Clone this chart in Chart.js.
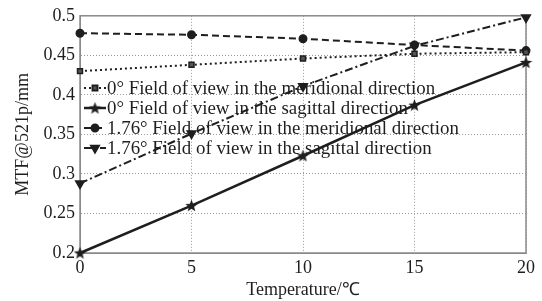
<!DOCTYPE html>
<html>
<head>
<meta charset="utf-8">
<script src="https://cdn.jsdelivr.net/npm/chart.js@4"></script>
<style>
  html, body { margin: 0; padding: 0; background: #fff; }
  #wrap { width: 542px; height: 301px; }
</style>
</head>
<body>
<div id="wrap"><canvas id="mtf"></canvas></div>
<script>
// values
const temps = [0, 5, 10, 15, 20];
const mer0 = [0.430, 0.438, 0.446, 0.452, 0.454];
const sag0 = [0.200, 0.260, 0.323, 0.387, 0.441];
const mer176 = [0.478, 0.476, 0.471, 0.463, 0.456];
const sag176 = [0.288, 0.351, 0.411, 0.462, 0.498];
const yTicks = [0.2, 0.25, 0.3, 0.35, 0.4, 0.45, 0.5];
const xTicks = [0, 5, 10, 15, 20];
const seriesNames = [
  "0° Field of view in the meridional direction",
  "0° Field of view in the sagittal direction",
  "1.76° Field of view in the meridional direction",
  "1.76° Field of view in the sagittal direction",
];

const FONT = "'Liberation Serif', 'Times New Roman', serif";
const INK = "#1e1e1e";

// filled five point star, like the matlab pentagram marker
function makeStar(size) {
  const c = document.createElement("canvas");
  c.width = size; c.height = size;
  const g = c.getContext("2d");
  const r = size / 2, ri = r * 0.42;
  g.beginPath();
  for (let i = 0; i < 10; i++) {
    const rad = i % 2 ? ri : r;
    const a = -Math.PI / 2 + i * Math.PI / 5;
    const px = r + rad * Math.cos(a), py = r + 0.5 + rad * Math.sin(a);
    i ? g.lineTo(px, py) : g.moveTo(px, py);
  }
  g.closePath();
  g.fillStyle = INK;
  g.fill();
  return c;
}
const star = makeStar(13);

function pts(arr) {
  return temps.map((t, i) => ({ x: t, y: arr[i] }));
}

const datasets = [
  { label: seriesNames[0], data: pts(mer0), borderDash: [2, 3], borderWidth: 2,
    pointStyle: "rect", pointRadius: 3.5, pointBackgroundColor: "#555", pointBorderWidth: 1.5 },
  { label: seriesNames[1], data: pts(sag0), borderDash: [], borderWidth: 2.5,
    pointStyle: star, pointRadius: 6 },
  { label: seriesNames[2], data: pts(mer176), borderDash: [7, 4], borderWidth: 2,
    pointStyle: "circle", pointRadius: 3.5, pointBackgroundColor: INK },
  { label: seriesNames[3], data: pts(sag176), borderDash: [8, 3, 2, 3], borderWidth: 2,
    pointStyle: "triangle", rotation: 180, pointRadius: 4.5, pointBackgroundColor: INK },
].map(d => Object.assign({ borderColor: INK, pointBorderColor: INK, tension: 0, fill: false, clip: false }, d));

// grey box round the plot area
const boxPlugin = {
  id: "box",
  beforeDatasetsDraw(chart) {
    const { ctx, chartArea: a } = chart;
    ctx.save();
    ctx.strokeStyle = "#8a8a8a";
    ctx.lineWidth = 1.5;
    ctx.strokeRect(a.left, a.top, a.right - a.left, a.bottom - a.top);
    ctx.restore();
  },
};

// legend sits inside the plot, no frame, lines run through it
const insideLegend = {
  id: "insideLegend",
  afterDatasetsDraw(chart) {
    const { ctx } = chart;
    const x0 = 84, y0 = 88, rowH = 20;
    ctx.save();
    chart.data.datasets.forEach((ds, i) => {
      const y = y0 + i * rowH;
      ctx.strokeStyle = INK;
      ctx.lineWidth = ds.borderWidth;
      ctx.setLineDash(ds.borderDash);
      ctx.beginPath();
      ctx.moveTo(x0, y);
      ctx.lineTo(x0 + 22, y);
      ctx.stroke();
      ctx.setLineDash([]);
      ctx.fillStyle = ds.pointBackgroundColor || INK;
      Chart.helpers.drawPoint(ctx, {
        pointStyle: ds.pointStyle, rotation: ds.rotation || 0,
        radius: ds.pointRadius, borderWidth: 1.5,
      }, x0 + 11, y);
      ctx.fillStyle = INK;
      ctx.font = "18px " + FONT;
      ctx.textBaseline = "middle";
      // the original text is set a little wide
      ctx.save();
      ctx.translate(x0 + 23, y + 1);
      ctx.scale(1.05, 1);
      ctx.fillText(ds.label, 0, 0);
      ctx.restore();
    });
    ctx.restore();
  },
};

new Chart(document.getElementById("mtf"), {
  type: "line",
  data: { datasets },
  options: {
    responsive: true,
    maintainAspectRatio: false,
    animation: false,
    layout: { padding: { top: 12, right: 16, left: 8, bottom: 0 } },
    plugins: { legend: { display: false }, tooltip: { enabled: false } },
    elements: { point: { borderWidth: 1.5 } },
    scales: {
      x: {
        type: "linear", min: 0, max: 20,
        afterBuildTicks: s => { s.ticks = xTicks.map(v => ({ value: v })); },
        ticks: { color: INK, font: { family: FONT, size: 18 }, padding: 4 },
        grid: { color: "#9a9a9a", lineWidth: 1, drawTicks: false },
        border: { display: true, color: "#8a8a8a", dash: [1, 2] },
        title: { display: true, text: "Temperature/℃", color: INK,
          font: { family: FONT, size: 18 }, padding: { top: 2, bottom: 0 } },
        afterFit: s => { s.height = 48; },
      },
      y: {
        min: 0.2, max: 0.5,
        afterBuildTicks: s => { s.ticks = yTicks.map(v => ({ value: v })); },
        ticks: { color: INK, font: { family: FONT, size: 18 }, padding: 5,
          callback: v => String(+v.toFixed(2)) },
        grid: { color: "#9a9a9a", lineWidth: 1, drawTicks: false },
        border: { display: true, color: "#8a8a8a", dash: [1, 2] },
        title: { display: true, text: "MTF@521p/mm", color: INK,
          font: { family: FONT, size: 18 }, padding: { bottom: 2 } },
        afterFit: s => { s.width = 72; },
      },
    },
  },
  plugins: [boxPlugin, insideLegend],
});
</script>
</body>
</html>
